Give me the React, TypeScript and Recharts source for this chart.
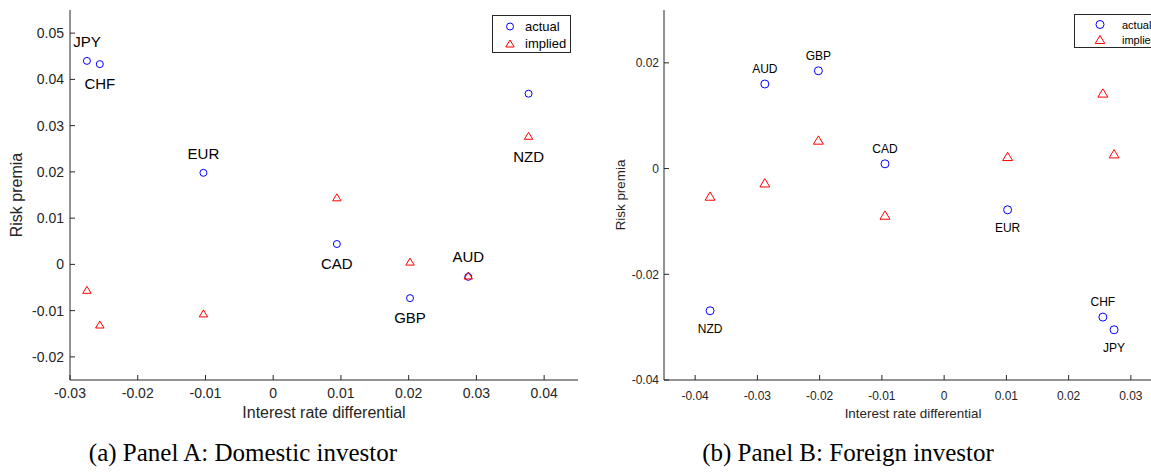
import { ScatterChart, Scatter, XAxis, YAxis } from "recharts"

const currencies = ["JPY", "CHF", "EUR", "CAD", "GBP", "AUD", "NZD"]

// Panel A: domestic investor
const domRateDiff = [-0.0275, -0.0256, -0.0103, 0.0094, 0.0202, 0.0288, 0.0377]
const domActual = [0.044, 0.0433, 0.0198, 0.0044, -0.0073, -0.0027, 0.0369]
const domImplied = [-0.0055, -0.013, -0.0106, 0.0145, 0.0006, -0.0024, 0.0278]

// Panel B: foreign investor
const forRateDiff = [0.0273, 0.0255, 0.0102, -0.0095, -0.0202, -0.0288, -0.0376]
const forActual = [-0.0305, -0.0281, -0.0078, 0.0009, 0.0185, 0.016, -0.0269]
const forImplied = [0.0028, 0.0143, 0.0023, -0.0088, 0.0054, -0.0027, -0.0052]

const domXTicks = [-0.03, -0.02, -0.01, 0, 0.01, 0.02, 0.03, 0.04]
const domYTicks = [-0.02, -0.01, 0, 0.01, 0.02, 0.03, 0.04, 0.05]
const forXTicks = [-0.04, -0.03, -0.02, -0.01, 0, 0.01, 0.02, 0.03]
const forYTicks = [-0.04, -0.02, 0, 0.02]

// which series each currency label hangs on, and whether it sits above or below
const domLabels: Record<string, [string, "up" | "down"]> = {
  JPY: ["actual", "up"],
  CHF: ["actual", "down"],
  EUR: ["actual", "up"],
  CAD: ["actual", "down"],
  GBP: ["actual", "down"],
  AUD: ["implied", "up"],
  NZD: ["implied", "down"],
}
const forLabels: Record<string, [string, "up" | "down"]> = {
  JPY: ["actual", "down"],
  CHF: ["actual", "up"],
  EUR: ["actual", "down"],
  CAD: ["actual", "up"],
  GBP: ["actual", "up"],
  AUD: ["actual", "up"],
  NZD: ["actual", "down"],
}

const AX = "#262626"
const SANS = "'Liberation Sans', Arial, Helvetica, sans-serif"

const toPoints = (xs: number[], ys: number[]) => currencies.map((name, i) => ({ name, x: xs[i], y: ys[i] }))

function makeShape(kind: "actual" | "implied", size: number, labels: Record<string, [string, "up" | "down"]>, fontSize: number, upDy: number, downDy: number) {
  return (props: any) => {
    const { cx, cy, payload } = props
    const lab = labels[payload.name]
    const showLabel = lab && lab[0] === kind
    const h = size
    return (
      <g>
        {kind === "actual" ? (
          <circle cx={cx} cy={cy} r={size / 2} fill="none" stroke="#0000ff" strokeWidth={1} />
        ) : (
          <path
            d={`M${cx},${cy - h / 2} L${cx - h * 0.6},${cy + h / 2} L${cx + h * 0.6},${cy + h / 2} Z`}
            fill="none"
            stroke="#ff0000"
            strokeWidth={1}
          />
        )}
        {showLabel && (
          <text
            x={cx}
            y={cy + (lab[1] === "up" ? upDy : downDy)}
            textAnchor="middle"
            dominantBaseline="central"
            fontSize={fontSize}
            fontFamily={SANS}
            fill="#000"
          >
            {payload.name}
          </text>
        )}
      </g>
    )
  }
}

function LegendBox({ left, top, width, fontSize, r, markX, textX }: { left: number; top: number; width: number; fontSize: number; r: number; markX: number; textX: number }) {
  const rowH = fontSize + 4
  return (
    <div
      style={{
        position: "absolute",
        left,
        top,
        width,
        height: rowH * 2 + 4,
        border: `1px solid ${AX}`,
        background: "#fff",
        fontFamily: SANS,
        fontSize,
        color: "#000",
        boxSizing: "border-box",
      }}
    >
      {["actual", "implied"].map((k, i) => (
        <div key={k} style={{ position: "absolute", top: 2 + i * rowH, left: 0, height: rowH, display: "flex", alignItems: "center" }}>
          <svg width={textX} height={rowH} style={{ display: "block" }}>
            {k === "actual" ? (
              <circle cx={markX} cy={rowH / 2} r={r} fill="none" stroke="#0000ff" />
            ) : (
              <path
                d={`M${markX},${rowH / 2 - r} L${markX - r * 1.2},${rowH / 2 + r} L${markX + r * 1.2},${rowH / 2 + r} Z`}
                fill="none"
                stroke="#ff0000"
              />
            )}
          </svg>
          <span>{k}</span>
        </div>
      ))}
    </div>
  )
}

export default function App() {
  const domActualPts = toPoints(domRateDiff, domActual)
  const domImpliedPts = toPoints(domRateDiff, domImplied)
  const forActualPts = toPoints(forRateDiff, forActual)
  const forImpliedPts = toPoints(forRateDiff, forImplied)

  return (
    <div style={{ position: "absolute", left: 0, top: 0, width: 1151, height: 474, overflow: "hidden", background: "#fff" }}>
      <div style={{ position: "absolute", left: 0, top: 0 }}>
        <ScatterChart width={590} height={420} margin={{ top: 10, right: 12, bottom: 0, left: 0 }}>
          <XAxis
            type="number"
            dataKey="x"
            domain={[-0.03, 0.045]}
            ticks={domXTicks}
            height={40}
            axisLine={{ stroke: AX }}
            tickLine={{ stroke: AX }}
            tickSize={-5}
            tickMargin={13}
            tick={{ fill: AX, fontSize: 14, fontFamily: SANS }}
            label={{ value: "Interest rate differential", position: "insideBottom", offset: 2, fill: AX, fontSize: 16, fontFamily: SANS }}
          />
          <YAxis
            type="number"
            dataKey="y"
            domain={[-0.025, 0.055]}
            ticks={domYTicks}
            width={70}
            axisLine={{ stroke: AX }}
            tickLine={{ stroke: AX }}
            tickSize={-5}
            tickMargin={11}
            tick={{ fill: AX, fontSize: 14, fontFamily: SANS }}
            label={{ value: "Risk premia", angle: -90, position: "insideLeft", offset: 16, fill: AX, fontSize: 16, fontFamily: SANS, style: { textAnchor: "middle" } }}
          />
          <Scatter name="actual" data={domActualPts} isAnimationActive={false} shape={makeShape("actual", 7, domLabels, 15, -19, 19)} />
          <Scatter name="implied" data={domImpliedPts} isAnimationActive={false} shape={makeShape("implied", 7, domLabels, 15, -19, 21)} />
        </ScatterChart>
      </div>
      <LegendBox left={492} top={15} width={79} fontSize={13} r={3.5} markX={17} textX={32} />

      <div style={{ position: "absolute", left: 590, top: 0 }}>
        <ScatterChart width={575} height={420} margin={{ top: 10, right: 3, bottom: 0, left: 0 }}>
          <XAxis
            type="number"
            dataKey="x"
            domain={[-0.045, 0.035]}
            ticks={forXTicks}
            height={40}
            axisLine={{ stroke: AX }}
            tickLine={{ stroke: AX }}
            tickSize={-5}
            tickMargin={16}
            tick={{ fill: AX, fontSize: 12, fontFamily: SANS }}
            label={{ value: "Interest rate differential", position: "insideBottom", offset: 2, fill: AX, fontSize: 13.4, fontFamily: SANS }}
          />
          <YAxis
            type="number"
            dataKey="y"
            domain={[-0.04, 0.03]}
            ticks={forYTicks}
            width={74}
            axisLine={{ stroke: AX }}
            tickLine={{ stroke: AX }}
            tickSize={-5}
            tickMargin={10}
            tick={{ fill: AX, fontSize: 12, fontFamily: SANS }}
            label={{ value: "Risk premia", angle: -90, position: "insideLeft", offset: 30, fill: AX, fontSize: 13.4, fontFamily: SANS, style: { textAnchor: "middle" } }}
          />
          <Scatter name="actual" data={forActualPts} isAnimationActive={false} shape={makeShape("actual", 8, forLabels, 12, -15, 18)} />
          <Scatter name="implied" data={forImpliedPts} isAnimationActive={false} shape={makeShape("implied", 8.3, forLabels, 12, -15, 18)} />
        </ScatterChart>
      </div>
      <LegendBox left={1074} top={14} width={100} fontSize={11} r={4} markX={25} textX={47} />

      <div style={{ position: "absolute", left: 243 - 250, top: 438, width: 500, textAlign: "center", fontFamily: "'Liberation Serif', 'Times New Roman', serif", fontSize: 25, lineHeight: "30px", color: "#000" }}>
        (a) Panel A: Domestic investor
      </div>
      <div style={{ position: "absolute", left: 848 - 250, top: 438, width: 500, textAlign: "center", fontFamily: "'Liberation Serif', 'Times New Roman', serif", fontSize: 25, lineHeight: "30px", color: "#000" }}>
        (b) Panel B: Foreign investor
      </div>
    </div>
  )
}
